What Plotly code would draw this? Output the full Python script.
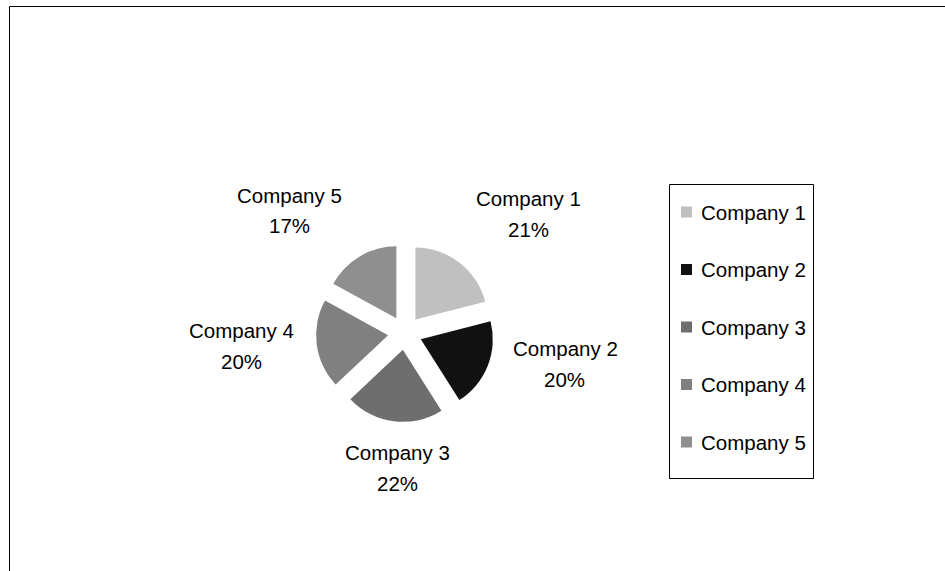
import plotly.graph_objects as go

# Market share data
companies = ["Company 1", "Company 2", "Company 3", "Company 4", "Company 5"]
shares = [21, 20, 22, 20, 17]
colors = ["#C0C0C0", "#111111", "#6E6E6E", "#808080", "#8F8F8F"]

W, H = 945, 571
FONT = "Liberation Sans, Arial, sans-serif"
FS = 20.5


def px(x):
    return x / W


def py(y):
    return 1 - y / H


# Pie placement (pixels)
cx, cy, half = 405, 333, 89
pull = 0.236

# Outside label anchors (pixels): name line centre, percent line centre
label_pos = [
    ((528, 199), (528, 229)),
    ((565, 348), (564, 379)),
    ((397, 452), (397, 483)),
    ((241, 330), (241, 361)),
    ((289, 195), (289, 226)),
]

fig = go.Figure(
    go.Pie(
        labels=companies,
        values=shares,
        sort=False,
        direction="clockwise",
        rotation=0,
        pull=[pull] * len(shares),
        marker=dict(colors=colors, line=dict(width=0)),
        textinfo="none",
        hoverinfo="label+percent",
        showlegend=False,
        domain=dict(x=[px(cx - half), px(cx + half)], y=[py(cy + half), py(cy - half)]),
    )
)

total = sum(shares)
annotations = []
shapes = []

# Data labels: category name and percentage
for name, val, (p_name, p_pct) in zip(companies, shares, label_pos):
    pct = f"{round(100 * val / total)}%"
    for (x, y), txt in ((p_name, name), (p_pct, pct)):
        annotations.append(dict(
            x=px(x), y=py(y), xref="paper", yref="paper", text=txt,
            showarrow=False, xanchor="center", yanchor="middle",
            font=dict(family=FONT, size=FS, color="#000000"),
        ))

# Legend box (half-pixel offsets keep the 1px border crisp)
lx0, lx1, ly0, ly1 = 669.5, 813.5, 184.5, 478.5
shapes.append(dict(type="rect", xref="paper", yref="paper",
                   x0=px(lx0), x1=px(lx1), y0=py(ly1), y1=py(ly0),
                   line=dict(color="#000000", width=1), fillcolor="rgba(0,0,0,0)"))
first_y, step, sq = 212, 57.5, 11
for i, (name, col) in enumerate(zip(companies, colors)):
    yc = first_y + i * step
    shapes.append(dict(type="rect", xref="paper", yref="paper",
                       x0=px(681), x1=px(681 + sq), y0=py(yc + sq / 2), y1=py(yc - sq / 2),
                       line=dict(width=0), fillcolor=col))
    annotations.append(dict(
        x=px(699), y=py(yc), xref="paper", yref="paper", text=name,
        showarrow=False, xanchor="left", yanchor="middle",
        font=dict(family=FONT, size=FS, color="#000000"),
    ))

# Chart area frame (extends past the right and bottom edges)
shapes.append(dict(type="rect", xref="paper", yref="paper",
                   x0=px(9.5), x1=px(W + 20), y0=py(H + 20), y1=py(6.5),
                   line=dict(color="#000000", width=1), fillcolor="rgba(0,0,0,0)"))

fig.update_layout(
    width=W, height=H, autosize=False,
    margin=dict(l=0, r=0, t=0, b=0),
    paper_bgcolor="#FFFFFF", plot_bgcolor="#FFFFFF",
    font=dict(family=FONT, size=FS, color="#000000"),
    annotations=annotations, shapes=shapes,
)

fig.write_html("out.html")
